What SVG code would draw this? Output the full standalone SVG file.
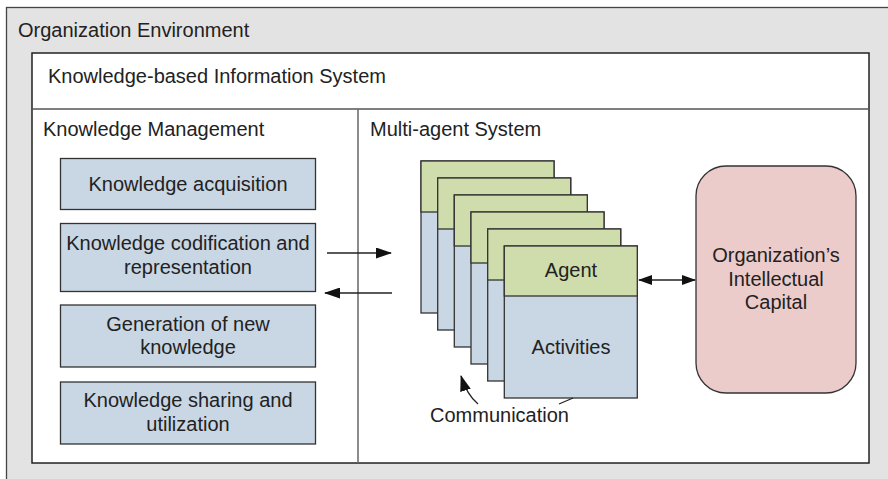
<svg xmlns="http://www.w3.org/2000/svg" width="888" height="479" viewBox="0 0 888 479">
<defs>
<style>
text{font-family:"Liberation Sans",Arial,Helvetica,sans-serif;font-size:20px;fill:#222}
.c{text-anchor:middle}
.km{fill:#c9d6e4;stroke:#333;stroke-width:1.3}
.gr{fill:#cfdcab;stroke:#333;stroke-width:1.3}
.bl{fill:#c9d6e4;stroke:#333;stroke-width:1.3}
.ln{stroke:#222;stroke-width:1.3;fill:none}
</style>
<marker id="ah" viewBox="0 0 14 10" refX="13" refY="5" markerWidth="14" markerHeight="10" markerUnits="userSpaceOnUse" orient="auto-start-reverse">
<path d="M0,0 L14,5 L0,10 Z" fill="#111"/>
</marker>
<marker id="ah2" viewBox="0 0 16 11" refX="15" refY="5.5" markerWidth="16" markerHeight="11" markerUnits="userSpaceOnUse" orient="auto">
<path d="M0,0 L16,5.5 L0,11 Z" fill="#111"/>
</marker>
</defs>
<g id="environment">
<rect x="6.5" y="7.5" width="890" height="480" fill="#e3e3e3" stroke="#444" stroke-width="1.3"/>
<text x="18" y="37">Organization Environment</text>
</g>
<g id="kbis">
<rect x="32" y="53" width="837" height="410" fill="#fff" stroke="#222" stroke-width="1.5"/>
<text x="48" y="83">Knowledge-based Information System</text>
<line x1="32" y1="109" x2="869" y2="109" stroke="#555" stroke-width="1.3"/>
<line x1="358" y1="109" x2="358" y2="463" stroke="#666" stroke-width="1.5"/>
</g>
<g id="km">
<text x="43" y="136">Knowledge Management</text>
</g>
<g id="mas">
<text x="370" y="136">Multi-agent System</text>
</g>
<g id="ka">
<rect class="km" x="60.5" y="158.5" width="255" height="51"/>
<text class="c" x="188" y="191">Knowledge acquisition</text>
</g>
<g id="kcr">
<rect class="km" x="60.5" y="223.5" width="255" height="68"/>
<text class="c" x="188" y="250">Knowledge codification and</text>
<text class="c" x="188" y="274">representation</text>
</g>
<g id="gnk">
<rect class="km" x="60.5" y="305" width="255" height="62"/>
<text class="c" x="188" y="330.5">Generation of new</text>
<text class="c" x="188" y="354">knowledge</text>
</g>
<g id="ksu">
<rect class="km" x="60.5" y="382" width="255" height="62"/>
<text class="c" x="188" y="407">Knowledge sharing and</text>
<text class="c" x="188" y="431">utilization</text>
</g>
<g id="agents">
<g id="agent1"><rect class="bl" x="421" y="161" width="133" height="152"/><rect class="gr" x="421" y="161" width="133" height="51"/></g>
<g id="agent2"><rect class="bl" x="437.7" y="178" width="133" height="152"/><rect class="gr" x="437.7" y="178" width="133" height="51"/></g>
<g id="agent3"><rect class="bl" x="454.3" y="195" width="133" height="152"/><rect class="gr" x="454.3" y="195" width="133" height="51"/></g>
<g id="agent4"><rect class="bl" x="471" y="212" width="133" height="152"/><rect class="gr" x="471" y="212" width="133" height="51"/></g>
<g id="agent5"><rect class="bl" x="487.7" y="229" width="133" height="152"/><rect class="gr" x="487.7" y="229" width="133" height="51"/></g>
<g id="agent6"><rect class="bl" x="504.3" y="246" width="133" height="152"/><rect class="gr" x="504.3" y="246" width="133" height="50"/>
<text class="c" x="571" y="277">Agent</text>
<text class="c" x="571" y="354">Activities</text>
</g>
</g>
<g id="capital">
<rect x="696" y="166" width="160" height="227" rx="30" ry="30" fill="#eccbcb" stroke="#333" stroke-width="1.3"/>
<text class="c" x="776" y="262">Organization’s</text>
<text class="c" x="776" y="285.5">Intellectual</text>
<text class="c" x="776" y="309">Capital</text>
</g>
<g id="communication">
<text x="430" y="422">Communication</text>
</g>
<g id="connectors">
<line class="ln" x1="327" y1="253" x2="391" y2="253" marker-end="url(#ah2)"/>
<line class="ln" x1="392" y1="293" x2="325" y2="293" marker-end="url(#ah2)"/>
<line class="ln" x1="639" y1="280" x2="695" y2="280" marker-start="url(#ah)" marker-end="url(#ah)"/>
<path class="ln" d="M478,404 Q467,395 461,376" marker-end="url(#ah2)"/>
<line class="ln" x1="559" y1="404" x2="573" y2="398"/>
</g>
</svg>
